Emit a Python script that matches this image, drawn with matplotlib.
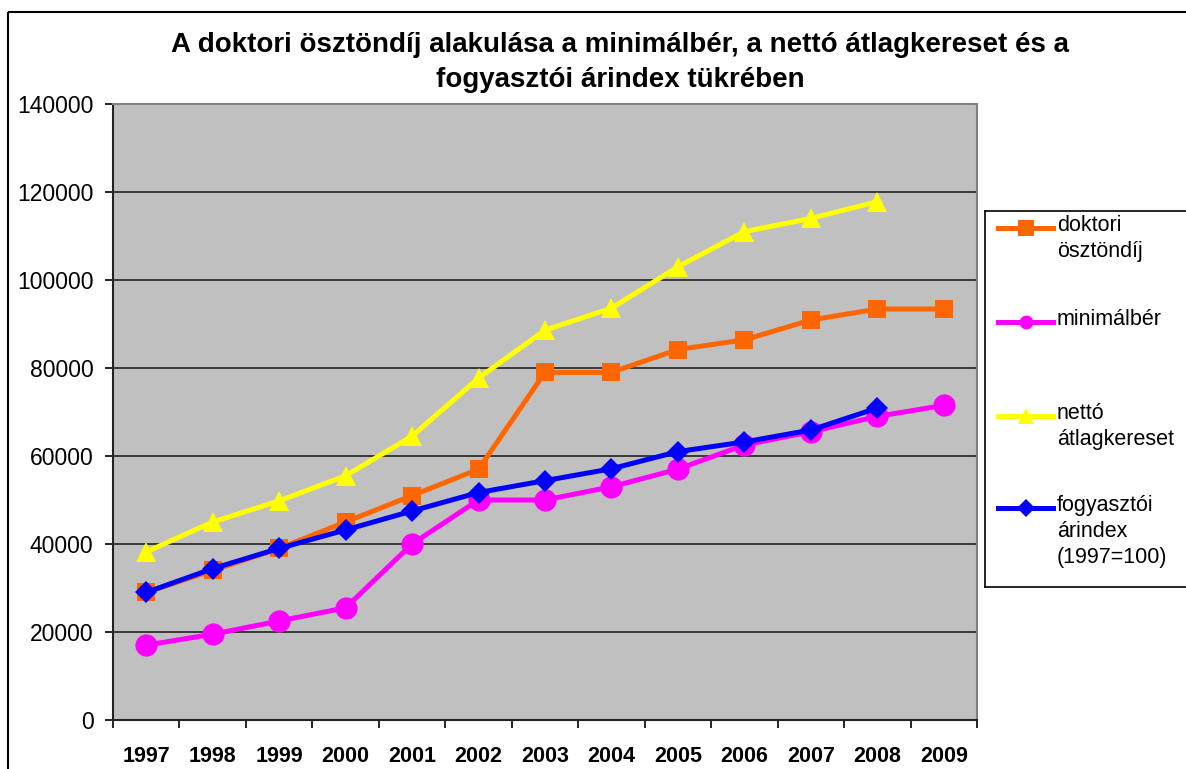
import numpy as np
import matplotlib
matplotlib.use("Agg")
import matplotlib.pyplot as plt
from matplotlib.patches import Rectangle
from matplotlib.lines import Line2D

plt.rcParams['font.family'] = ['Liberation Sans', 'DejaVu Sans']

# ── adatok ──────────────────────────────────────────────
years = ['1997', '1998', '1999', '2000', '2001', '2002', '2003',
         '2004', '2005', '2006', '2007', '2008', '2009']
doktori = [29000, 34000, 39000, 45000, 51000, 57000, 79000,
           79000, 84200, 86400, 90900, 93400, 93400]
minimalber = [17000, 19500, 22500, 25500, 40000, 50000, 50000,
              53000, 57000, 62500, 65500, 69000, 71500]
netto = [38200, 45000, 49800, 55500, 64500, 77700, 88600,
         93600, 103000, 111000, 114000, 117800]
arindex = [29000, 34400, 39000, 43200, 47500, 51700, 54400,
           57100, 61000, 63200, 65900, 70900]
yticks = [0, 20000, 40000, 60000, 80000, 100000, 120000, 140000]

# (felirat, adatok, szín, jelölő, méret az ábrán, méret a jelmagyarázatban)
series = [
    ('doktori\nösztöndíj', doktori, '#FF6600', 's', 13, 12),
    ('minimálbér', minimalber, '#FF00FF', 'o', 16, 10),
    ('nettó\nátlagkereset', netto, '#FFFF00', '^', 15, 12),
    ('fogyasztói\nárindex\n(1997=100)', arindex, '#0000FF', 'D', 11, 9),
]

W, H = 1186, 769
fig = plt.figure(figsize=(W / 100, H / 100), dpi=100)
fig.patch.set_facecolor('white')

# külső keret (jobb és alsó része kilóg)
fig.patches.append(Rectangle((8 / W, 1 - 12 / H), 1.2, -1.2,
                             transform=fig.transFigure, fill=False,
                             edgecolor='black', lw=1.5))

ax = fig.add_axes([113 / W, 1 - 720 / H, (977 - 113) / W, (720 - 104) / H])
ax.set_facecolor('#C0C0C0')

for label, vals, color, marker, ms, _ in series:
    x = np.arange(len(vals))
    ax.plot(x, vals, color=color, lw=3.6, marker=marker, ms=ms,
            markeredgewidth=0, clip_on=False)

ax.set_xlim(-0.5, len(years) - 0.5)
ax.set_ylim(0, 140000)
ax.set_yticks(yticks)
ax.set_yticklabels([str(v) for v in yticks], fontsize=16.5)
ax.yaxis.grid(True, color='#222222', lw=1.2)
ax.set_axisbelow(True)

ax.set_xticks(np.arange(len(years)))
ax.set_xticklabels(years, fontsize=15.5, fontweight='bold')
ax.set_xticks(np.arange(len(years) + 1) - 0.5, minor=True)
ax.tick_params(axis='x', which='major', length=0, pad=19)
ax.tick_params(axis='x', which='minor', length=5.5, width=1.2, direction='out')
ax.tick_params(axis='y', length=6, width=1.2, direction='out', pad=8)

for s in ['left', 'bottom']:
    ax.spines[s].set_color('#222222')
    ax.spines[s].set_linewidth(1.5)
for s in ['top', 'right']:
    ax.spines[s].set_color('#808080')
    ax.spines[s].set_linewidth(1.5)

fig.text(620 / W, 1 - 45 / H,
         'A doktori ösztöndíj alakulása a minimálbér, a nettó átlagkereset és a',
         ha='center', va='center', fontsize=20, fontweight='bold')
fig.text(620 / W, 1 - 80 / H, 'fogyasztói árindex tükrében',
         ha='center', va='center', fontsize=20, fontweight='bold')

# jelmagyarázat (jobb széle levágva, mint az eredetin)
lax = fig.add_axes([985 / W, 1 - 587 / H, 215 / W, (587 - 211) / H])
lax.set_xlim(985, 1200)
lax.set_ylim(587, 211)
lax.set_xticks([])
lax.set_yticks([])
lax.set_facecolor('white')
for s in lax.spines.values():
    s.set_color('black')
    s.set_linewidth(1.2)

entry_y = [228, 322, 416, 508]
for (label, vals, color, marker, ms, lms), yy in zip(series, entry_y):
    lax.add_line(Line2D([998, 1053], [yy, yy], color=color, lw=3.6))
    lax.plot([1025.5], [yy], marker=marker, color=color, ms=lms,
             markeredgewidth=0)
    lax.text(1057, yy - 13, label, fontsize=15.5, va='top', ha='left',
             linespacing=1.3, clip_on=True)

fig.savefig('out.png', dpi=100)
